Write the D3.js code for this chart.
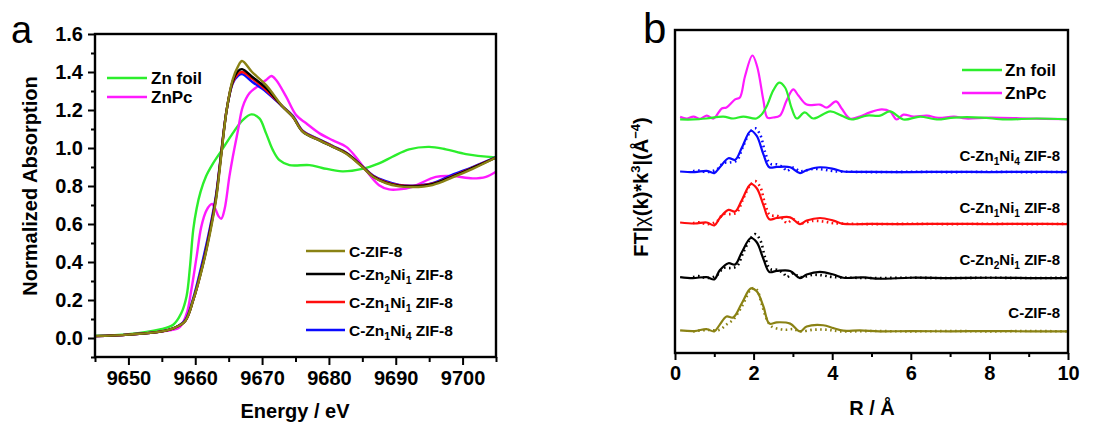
<!DOCTYPE html>
<html>
<head>
<meta charset="utf-8">
<script src="https://cdn.jsdelivr.net/npm/d3@7"></script>
<style>
  body { margin: 0; background: #fff; }
  text { font-family: "Liberation Sans", Arial, sans-serif; fill: #000; }
</style>
</head>
<body>
<svg id="chart" width="1094" height="426"></svg>
<script>
// ---------- panel a : XANES ----------
const energyGrid = [9645, 9650, 9655, 9657, 9658.5, 9659.7, 9661.2, 9662.2, 9663.1, 9663.7, 9664.7, 9665.6, 9666.4, 9667, 9668.5, 9670.6, 9673.1, 9674.6, 9676.1, 9678.6, 9680.6, 9682.6, 9685, 9686.6, 9688.5, 9690.5, 9692.5, 9695.5, 9698.5, 9701.5, 9705]
const cZif8Xanes  = [0.01, 0.018, 0.035, 0.055, 0.09, 0.2, 0.39, 0.55, 0.725, 0.90, 1.2, 1.36, 1.43, 1.458, 1.40, 1.331, 1.217, 1.164, 1.085, 1.04, 1.006, 0.97, 0.90, 0.848, 0.815, 0.798, 0.794, 0.805, 0.845, 0.89, 0.95]
const zn2ni1Xanes = [0.01, 0.018, 0.035, 0.055, 0.09, 0.2, 0.395, 0.56, 0.735, 0.91, 1.2, 1.35, 1.405, 1.415, 1.375, 1.315, 1.217, 1.164, 1.085, 1.04, 1.006, 0.972, 0.902, 0.85, 0.818, 0.802, 0.798, 0.81, 0.85, 0.895, 0.95]
const zn1ni1Xanes = [0.01, 0.018, 0.035, 0.055, 0.09, 0.2, 0.40, 0.565, 0.74, 0.915, 1.2, 1.345, 1.39, 1.40, 1.365, 1.305, 1.217, 1.165, 1.087, 1.042, 1.008, 0.973, 0.903, 0.852, 0.82, 0.804, 0.8, 0.812, 0.852, 0.897, 0.95]
const zn1ni4Xanes = [0.01, 0.018, 0.035, 0.055, 0.095, 0.21, 0.42, 0.58, 0.75, 0.92, 1.2, 1.34, 1.38, 1.389, 1.349, 1.296, 1.217, 1.17, 1.09, 1.045, 1.01, 0.975, 0.905, 0.855, 0.825, 0.806, 0.802, 0.815, 0.86, 0.90, 0.952]

// [energy, absorption]
const znFoilXanes = [[9645,0.012],[9650,0.02],[9654.7,0.045],[9656.7,0.07],[9657.9,0.13],[9658.7,0.22],[9659.2,0.37],[9659.7,0.57],[9660.2,0.68],[9660.8,0.77],[9661.6,0.85],[9662.6,0.915],[9664,0.99],[9665.6,1.077],[9667.1,1.147],[9668.4,1.177],[9669.6,1.156],[9670.6,1.077],[9671.6,0.99],[9672.6,0.936],[9674.1,0.91],[9677.1,0.91],[9679,0.895],[9682,0.877],[9685,0.89],[9687.5,0.919],[9689.5,0.954],[9692,0.993],[9695,1.006],[9697.5,0.993],[9700.5,0.968],[9705,0.95]]
const znPcXanes = [[9645,0.01],[9650,0.018],[9655,0.035],[9657.6,0.055],[9658.7,0.128],[9659.4,0.25],[9660.2,0.427],[9660.9,0.585],[9661.7,0.673],[9662.5,0.705],[9663.0,0.68],[9663.5,0.64],[9663.9,0.628],[9664.4,0.68],[9665.1,0.848],[9665.6,0.95],[9666.4,1.094],[9667.1,1.217],[9668.1,1.288],[9669.6,1.331],[9670.6,1.358],[9671.4,1.379],[9672.1,1.358],[9673.6,1.27],[9675.1,1.173],[9676.6,1.13],[9678.6,1.077],[9680.6,1.04],[9682.6,1.006],[9684,0.954],[9685.5,0.884],[9687.5,0.804],[9689,0.782],[9690.5,0.782],[9692.5,0.796],[9696,0.848],[9698.5,0.852],[9701.5,0.84],[9703.5,0.848],[9705,0.875]]

const energyTicks = [9650, 9660, 9670, 9680, 9690, 9700]
const absTicks = [0.0, 0.2, 0.4, 0.6, 0.8, 1.0, 1.2, 1.4, 1.6]

// ---------- panel b : FT-EXAFS, [R, |FT|] ----------
const znFoilFt = [[0.13,-0.3],[0.47,-0.3],[0.8,0],[1.23,0.6],[1.48,0],[1.74,0.6],[2.07,0],[2.2,1.2],[2.33,3.7],[2.5,8.7],[2.65,11.1],[2.8,9.6],[2.97,3.1],[3.1,0],[3.3,1.9],[3.52,0],[3.95,2.2],[4.24,0.9],[4.5,-0.3],[4.88,0.9],[5.22,0.9],[5.47,2.2],[5.81,-0.3],[6.24,0.6],[6.66,-0.3],[7.1,0.3],[7.8,0.3],[8.4,-0.3],[9.2,0],[10,-0.3]]
const znPcFt = [[0.13,0.5],[0.3,0],[0.47,0.6],[0.64,-0.1],[0.81,0.9],[0.98,0],[1.19,3.1],[1.31,3.4],[1.53,5.9],[1.65,6.5],[1.78,13],[1.97,19.5],[2.09,16.1],[2.25,5.6],[2.35,0.3],[2.5,0.3],[2.67,0.9],[2.84,5.6],[3.01,9],[3.14,7.1],[3.35,4.3],[3.69,4.3],[3.86,3.4],[4.1,5.3],[4.24,3.1],[4.45,0],[4.7,0.6],[4.96,1.9],[5.26,2.8],[5.47,2.2],[5.64,-0.3],[5.81,1.2],[6.07,0.6],[6.41,0.9],[6.7,0.2],[7.1,0.6],[7.4,0],[8,0.3],[9,0],[10,-0.2]]

const zn1ni4Ft  = [[0.13,0.2],[0.5,0],[0.81,0.4],[1.0,-0.3],[1.14,1.5],[1.36,4.3],[1.53,3.8],[1.7,7.5],[1.93,12.8],[2.08,11.2],[2.25,5.5],[2.4,1.5],[2.59,1.6],[2.93,1.5],[3.18,-0.3],[3.35,0.6],[3.69,1.5],[4.03,1.0],[4.28,0.2],[5,0.1],[6,0],[7,0.1],[8,0],[9,0.1],[10,0]]
const zn1ni4Fit = [[0.46,0.3],[0.6,0.5],[0.8,0],[1.06,0.8],[1.23,2.8],[1.4,3.0],[1.57,3.6],[1.74,8.2],[1.91,12.4],[2.04,13.6],[2.17,11.5],[2.29,6.3],[2.42,2.6],[2.59,2.4],[2.76,1.4],[2.84,0.3],[3.01,1.4],[3.18,0.3],[3.52,1],[3.77,0.8],[4.03,0.3],[4.5,0.1],[5,0],[6,0.1],[7,0],[8,0.1],[9,0],[10,0.1]]
const zn1ni1Ft  = [[0.13,0.5],[0.5,0.2],[0.81,0.5],[1.0,-0.4],[1.14,1.9],[1.36,4.4],[1.53,3.9],[1.7,7.4],[1.93,12.4],[2.08,11.1],[2.25,5.9],[2.4,1.5],[2.59,1.9],[2.93,2.1],[3.18,0],[3.35,1.1],[3.69,1.9],[4.03,1.1],[4.28,0.1],[5,0.1],[6,0],[7,0.1],[8,0],[9,0.1],[10,0]]
const zn1ni1Fit = [[0.46,0.3],[0.6,0.6],[0.8,0],[1.06,0.8],[1.23,3.1],[1.4,3.1],[1.57,3.6],[1.74,8],[1.91,12],[2.04,13.3],[2.17,11.5],[2.29,6.3],[2.42,2.8],[2.59,2.6],[2.76,1.5],[2.84,0.3],[3.01,1.5],[3.18,0.3],[3.52,1],[3.77,0.8],[4.03,0.3],[4.5,0.1],[5,0],[6,0.1],[7,0],[8,0.1],[9,0],[10,0.1]]
const zn2ni1Ft  = [[0.13,0.3],[0.45,0],[0.81,0.3],[1.0,-0.4],[1.14,2.4],[1.36,4.6],[1.53,4.2],[1.7,8],[1.93,12.4],[2.08,11.1],[2.25,5.9],[2.4,1.9],[2.59,2.2],[2.93,2.2],[3.18,0],[3.35,1.1],[3.69,1.9],[4.03,1.1],[4.28,0.1],[4.8,0.2],[5.2,-0.2],[6,0.1],[7,0],[8,0.1],[9,0],[10,0]]
const zn2ni1Fit = [[0.46,0.3],[0.6,0.6],[0.8,0],[1.06,0.8],[1.23,3.1],[1.4,3.1],[1.57,3.6],[1.74,8],[1.91,12],[2.04,13.6],[2.17,11.7],[2.29,6.5],[2.42,2.8],[2.59,2.6],[2.76,1.5],[2.84,0.3],[3.01,1.5],[3.18,0.3],[3.52,1],[3.77,0.8],[4.03,0.3],[4.5,0.1],[5,0],[6,0.1],[7,0],[8,0.1],[9,0],[10,0.1]]
const cZif8Ft   = [[0.13,0.3],[0.5,0.1],[0.8,0.7],[1.0,0],[1.14,2.1],[1.31,4.6],[1.48,4.3],[1.7,8.7],[1.93,13.3],[2.08,12.4],[2.25,7.7],[2.4,2.4],[2.59,2.8],[2.93,2.4],[3.18,0],[3.35,1.5],[3.77,1.9],[4.03,1.0],[4.28,0.2],[4.71,0.3],[5.2,0],[6,0.1],[7,0],[8,0.1],[9,0],[10,0]]
const cZif8Fit  = [[0.46,0],[0.8,0.4],[1.14,0.5],[1.31,2.1],[1.48,3.6],[1.7,7.7],[1.96,13.3],[2.08,12.9],[2.2,8.7],[2.34,3.6],[2.46,1.5],[2.68,0.7],[2.84,0.5],[3.01,0.7],[3.18,0],[3.52,0.5],[3.86,0.5],[4.2,0],[5,0.1],[6,0],[7,0.1],[8,0],[9,0.1],[10,0]]

// vertical offsets used to stack the FT curves
const ftOffsets = { refs: 72.6, zn1ni4: 56.0, zn1ni1: 39.9, zn2ni1: 23.2, cZif8: 6.7 }
const rTicks = [0, 2, 4, 6, 8, 10]

const colors = { foil: '#2cee2c', pc: '#ff1aff', olive: '#8a8214', black: '#000', red: '#ff0d0d', blue: '#0a0aff' }

const svg = d3.select('#chart')
const curve = d3.curveCatmullRom.alpha(0.5)
const bold = sel => sel.style('font-weight', 'bold')

// helper: "C-Zn_1Ni_4 ZIF-8" -> text with subscripts
function richText(sel, str, size) {
  bold(sel)
  const shift = size * 0.28
  let pending = 0
  str.split(/(_\d)/).filter(s => s.length).forEach(part => {
    if (part[0] === '_') {
      sel.append('tspan').attr('font-size', size * 0.68).attr('dy', shift + pending).text(part.slice(1))
      pending = -shift
    } else {
      sel.append('tspan').attr('font-size', size).attr('dy', pending).text(part)
      pending = 0
    }
  })
}

// ====== panel a ======
const xA = d3.scaleLinear().domain([9645, 9705]).range([95, 496])
const yA = d3.scaleLinear().domain([-0.1, 1.6]).range([357, 34])
const gA = svg.append('g')

const axA = gA.append('g').attr('transform', 'translate(0,357)')
  .call(d3.axisBottom(xA).tickValues(energyTicks).tickFormat(d3.format('d')).tickSize(8).tickPadding(6))
axA.selectAll('text').attr('font-size', 20).call(bold)
gA.append('g').attr('transform', 'translate(0,357)')
  .call(d3.axisBottom(xA).tickValues([9645, 9655, 9665, 9675, 9685, 9695, 9705]).tickFormat('').tickSize(5))
const ayA = gA.append('g').attr('transform', 'translate(95,0)')
  .call(d3.axisLeft(yA).tickValues(absTicks).tickFormat(d3.format('.1f')).tickSize(7).tickPadding(5))
ayA.selectAll('text').attr('font-size', 20).call(bold)
gA.append('g').attr('transform', 'translate(95,0)')
  .call(d3.axisLeft(yA).tickValues([-0.1, 0.1, 0.3, 0.5, 0.7, 0.9, 1.1, 1.3, 1.5]).tickFormat('').tickSize(4))
gA.selectAll('.domain').remove()
gA.selectAll('.tick line').attr('stroke-width', 2)

const lineA = d3.line().x(d => xA(d[0])).y(d => yA(d[1])).curve(curve)
const zipE = vals => energyGrid.map((e, i) => [e, vals[i]])
const seriesA = [
  { data: znFoilXanes, color: colors.foil },
  { data: znPcXanes, color: colors.pc },
  { data: zipE(zn1ni4Xanes), color: colors.blue },
  { data: zipE(zn1ni1Xanes), color: colors.red },
  { data: zipE(zn2ni1Xanes), color: colors.black },
  { data: zipE(cZif8Xanes), color: colors.olive }
]
gA.selectAll('path.xanes').data(seriesA).join('path').attr('class', 'xanes')
  .attr('d', d => lineA(d.data)).attr('fill', 'none')
  .attr('stroke', d => d.color).attr('stroke-width', 2.4)

gA.append('rect').attr('x', 95).attr('y', 34).attr('width', 401).attr('height', 323)
  .attr('fill', 'none').attr('stroke', '#000').attr('stroke-width', 2.4)

// legends
const legA1 = [{ t: 'Zn foil', c: colors.foil, y: 78 }, { t: 'ZnPc', c: colors.pc, y: 97 }]
legA1.forEach(l => {
  gA.append('line').attr('x1', 107).attr('x2', 147).attr('y1', l.y).attr('y2', l.y).attr('stroke', l.c).attr('stroke-width', 2.6)
  gA.append('text').attr('x', 151).attr('y', l.y).attr('dy', '0.36em').attr('font-size', 17).call(bold).text(l.t)
})
const legA2 = [
  { t: 'C-ZIF-8', c: colors.olive, y: 251 },
  { t: 'C-Zn_2Ni_1 ZIF-8', c: colors.black, y: 274 },
  { t: 'C-Zn_1Ni_1 ZIF-8', c: colors.red, y: 302 },
  { t: 'C-Zn_1Ni_4 ZIF-8', c: colors.blue, y: 330 }
]
legA2.forEach(l => {
  gA.append('line').attr('x1', 306).attr('x2', 345).attr('y1', l.y).attr('y2', l.y).attr('stroke', l.c).attr('stroke-width', 2.6)
  richText(gA.append('text').attr('x', 349).attr('y', l.y + 5.5), l.t, 15.5)
})

gA.append('text').attr('transform', 'translate(37,186) rotate(-90)').attr('text-anchor', 'middle')
  .attr('font-size', 20).call(bold).text('Normalized Absorption')
gA.append('text').attr('x', 295).attr('y', 418).attr('text-anchor', 'middle').attr('font-size', 20).call(bold).text('Energy / eV')
gA.append('text').attr('x', 11).attr('y', 43).attr('font-size', 38).text('a')

// ====== panel b ======
const xB = d3.scaleLinear().domain([0, 10]).range([675, 1068])
const yB = d3.scaleLinear().domain([0, 100]).range([353, 30])
const gB = svg.append('g')

const axB = gB.append('g').attr('transform', 'translate(0,353)')
  .call(d3.axisBottom(xB).tickValues(rTicks).tickSize(7).tickPadding(6))
axB.selectAll('text').attr('font-size', 20).call(bold)
gB.append('g').attr('transform', 'translate(0,353)')
  .call(d3.axisBottom(xB).tickValues([1, 3, 5, 7, 9]).tickFormat('').tickSize(4))
gB.selectAll('.domain').remove()
gB.selectAll('.tick line').attr('stroke-width', 2)

const lineB = off => d3.line().x(d => xB(d[0])).y(d => yB(d[1] + off)).curve(curve)
const seriesB = [
  { data: znPcFt, off: ftOffsets.refs, color: colors.pc, dot: false },
  { data: znFoilFt, off: ftOffsets.refs, color: colors.foil, dot: false },
  { data: zn1ni4Ft, off: ftOffsets.zn1ni4, color: colors.blue, dot: false },
  { data: zn1ni4Fit, off: ftOffsets.zn1ni4, color: colors.blue, dot: true },
  { data: zn1ni1Ft, off: ftOffsets.zn1ni1, color: colors.red, dot: false },
  { data: zn1ni1Fit, off: ftOffsets.zn1ni1, color: colors.red, dot: true },
  { data: zn2ni1Ft, off: ftOffsets.zn2ni1, color: colors.black, dot: false },
  { data: zn2ni1Fit, off: ftOffsets.zn2ni1, color: colors.black, dot: true },
  { data: cZif8Ft, off: ftOffsets.cZif8, color: colors.olive, dot: false },
  { data: cZif8Fit, off: ftOffsets.cZif8, color: colors.olive, dot: true }
]
gB.selectAll('path.ft').data(seriesB).join('path').attr('class', 'ft')
  .attr('d', d => lineB(d.off)(d.data)).attr('fill', 'none')
  .attr('stroke', d => d.color)
  .attr('stroke-width', d => d.dot ? 2.6 : 2.2)
  .attr('stroke-dasharray', d => d.dot ? '1.6 3.4' : null)

gB.append('rect').attr('x', 675).attr('y', 30).attr('width', 393).attr('height', 323)
  .attr('fill', 'none').attr('stroke', '#000').attr('stroke-width', 2.4)

const legB = [{ t: 'Zn foil', c: colors.foil, y: 70 }, { t: 'ZnPc', c: colors.pc, y: 93 }]
legB.forEach(l => {
  gB.append('line').attr('x1', 962).attr('x2', 1002).attr('y1', l.y).attr('y2', l.y).attr('stroke', l.c).attr('stroke-width', 2.6)
  gB.append('text').attr('x', 1005).attr('y', l.y).attr('dy', '0.36em').attr('font-size', 17).call(bold).text(l.t)
})
const ftLabels = [
  { t: 'C-Zn_1Ni_4 ZIF-8', y: 161 },
  { t: 'C-Zn_1Ni_1 ZIF-8', y: 213 },
  { t: 'C-Zn_2Ni_1 ZIF-8', y: 265 },
  { t: 'C-ZIF-8', y: 318 }
]
ftLabels.forEach(l => {
  richText(gB.append('text').attr('x', 1060).attr('y', l.y).attr('text-anchor', 'end'), l.t, 15)
})

const yl = gB.append('text').attr('transform', 'translate(648,187) rotate(-90)').attr('text-anchor', 'middle').attr('font-size', 20)
yl.append('tspan').call(bold).text('FT|')
yl.append('tspan').text('\u03c7')
yl.append('tspan').call(bold).text('(k)*k')
yl.append('tspan').call(bold).attr('font-size', 13).attr('dy', -8).text('3')
yl.append('tspan').call(bold).attr('dy', 8).text('|(\u00c5')
yl.append('tspan').call(bold).attr('font-size', 13).attr('dy', -8).text('\u22124')
yl.append('tspan').call(bold).attr('dy', 8).text(')')

gB.append('text').attr('x', 872).attr('y', 415).attr('text-anchor', 'middle').attr('font-size', 20).call(bold).text('R / \u00c5')
gB.append('text').attr('x', 643).attr('y', 43).attr('font-size', 42).text('b')
</script>
</body>
</html>
